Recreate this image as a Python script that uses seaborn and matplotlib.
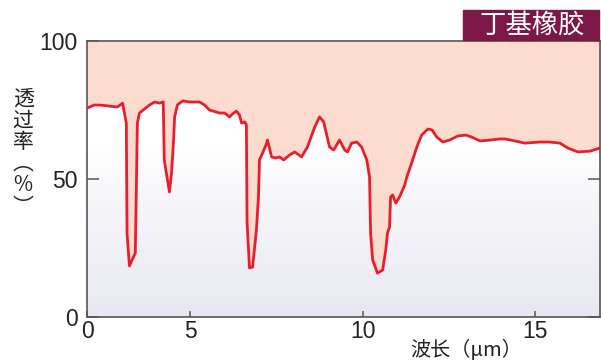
import numpy as np
import pandas as pd
import matplotlib
matplotlib.use("Agg")
import matplotlib.pyplot as plt
import seaborn as sns
from matplotlib.colors import LinearSegmentedColormap
from matplotlib.patches import Rectangle

# ---- data ----
wavelength = [2.00, 2.21, 2.36, 2.88, 3.03, 3.14, 3.16, 3.23, 3.40, 3.43, 3.46, 3.52,
              3.67, 3.81, 3.96, 4.10, 4.21, 4.24, 4.30, 4.39, 4.45, 4.51, 4.54, 4.62,
              4.77, 4.97, 5.26, 5.41, 5.55, 5.84, 5.99, 6.13, 6.22, 6.33, 6.42, 6.48,
              6.57, 6.62, 6.64, 6.71, 6.80, 6.86, 6.91, 6.97, 7.00, 7.09, 7.21, 7.23,
              7.29, 7.35, 7.47, 7.58, 7.70, 7.87, 8.02, 8.22, 8.39, 8.60, 8.74, 8.86,
              9.03, 9.15, 9.32, 9.47, 9.55, 9.67, 9.82, 9.96, 10.11, 10.19, 10.22, 10.28,
              10.42, 10.57, 10.66, 10.71, 10.77, 10.80, 10.86, 10.95, 11.06, 11.21, 11.27,
              11.41, 11.56, 11.70, 11.88, 12.00, 12.14, 12.31, 12.51, 12.75, 12.98, 13.15,
              13.39, 13.68, 13.96, 14.11, 14.40, 14.69, 15.12, 15.41, 15.71, 15.94, 16.23,
              16.58, 16.87]
transmittance = [75.7, 76.8, 76.8, 76.1, 77.5, 70.3, 30.4, 18.5, 23.2, 46.0, 70.3, 73.9,
                 75.4, 76.8, 77.9, 77.5, 77.9, 56.9, 52.2, 45.3, 52.2, 64.1, 72.5, 76.8,
                 78.3, 77.9, 77.9, 76.8, 75.0, 73.9, 73.9, 72.5, 73.6, 74.6, 73.2, 70.3,
                 70.7, 69.6, 34.1, 17.8, 18.1, 25.4, 31.5, 43.5, 56.9, 59.4, 63.0, 64.1,
                 61.2, 58.0, 57.6, 58.0, 56.9, 58.7, 59.8, 58.0, 61.6, 68.8, 72.5, 70.7,
                 61.6, 60.5, 64.1, 60.5, 59.8, 63.0, 63.4, 61.6, 56.9, 50.7, 30.4, 20.7,
                 15.9, 17.0, 24.3, 30.4, 32.6, 43.5, 44.2, 41.3, 43.5, 47.8, 50.7,
                 55.8, 61.6, 65.9, 68.1, 67.8, 65.2, 63.4, 64.1, 65.6, 65.9, 65.2,
                 63.8, 64.1, 64.5, 64.5, 63.8, 63.0, 63.4, 63.4, 63.0, 61.2, 59.8,
                 60.1, 61.2]
x_ticks = [2, 5, 10, 15]
x_tick_labels = ["0", "5", "10", "15"]
y_ticks = [0, 50, 100]
y_tick_labels = ["0", "50", "100"]
title = "丁基橡胶"
x_label = "波长（μm）"
y_label = "透\n过\n率\n︵\n%\n︶"

df = pd.DataFrame({"wavelength": wavelength, "transmittance": transmittance})

sns.set_theme(style="white")
plt.rcParams["font.family"] = ["Noto Sans CJK SC", "DejaVu Sans"]

W, H = 601, 363
fig = plt.figure(figsize=(W / 100, H / 100), dpi=100)
fig.patch.set_facecolor("white")
ax = fig.add_axes([87 / W, 46 / H, 513 / W, 276 / H])

xmin, xmax = 2.0, 16.87

# gradient background (visible below the curve)
cmap = LinearSegmentedColormap.from_list(
    "bg", [(0.0, "#e8e8f2"), (0.45, "#f7f7fa"), (0.62, "#ffffff"), (1.0, "#ffffff")])
grad = np.linspace(0, 1, 256).reshape(-1, 1)
ax.imshow(grad, extent=[xmin, xmax, 0, 100], origin="lower", cmap=cmap,
          aspect="auto", zorder=0, interpolation="bilinear")

# salmon fill above the curve
ax.fill_between(df["wavelength"], df["transmittance"], 100, color="#fcdccf",
                lw=0, zorder=1)
sns.lineplot(data=df, x="wavelength", y="transmittance", ax=ax, sort=False,
             estimator=None, color="#ea1d2c", lw=2.0, zorder=3,
             solid_joinstyle="round", solid_capstyle="round")

ax.set_xlim(xmin, xmax)
ax.set_ylim(0, 100)
ax.set_xlabel("")
ax.set_ylabel("")

ax.set_xticks(x_ticks)
ax.set_xticklabels(x_tick_labels, family=["Liberation Sans"], fontsize=16.5, color="#222222")
ax.set_yticks(y_ticks)
ax.set_yticklabels(y_tick_labels, family=["Liberation Sans"], fontsize=16.5, color="#222222")
ax.tick_params(axis="y", direction="in", length=8.5, width=1.1, color="#555555",
               left=True, right=True, pad=6.5)
ax.tick_params(axis="x", direction="in", length=4.5, width=1.1, color="#555555",
               bottom=True, top=False, pad=2)

for s in ax.spines.values():
    s.set_color("#555555")
    s.set_linewidth(1.2)
    s.set_visible(True)

# title box
fig.patches.append(Rectangle((463 / W, 1 - 40 / H), 136 / W, 30 / H,
                             transform=fig.transFigure, color="#7b1845", zorder=5))
fig.text(532 / W, 1 - 25 / H, title, ha="center", va="center", color="white",
         fontsize=19, fontweight="medium", zorder=6)

# x label
fig.text(466 / W, 1 - 350 / H, x_label, ha="center", va="center",
         fontsize=14.5, color="#222222")

# y label (vertical, stacked characters)
fig.text(23 / W, 1 - 153 / H, y_label, ha="center", va="center",
         fontsize=15, color="#222222", linespacing=0.98, multialignment="center")

fig.savefig("out.png", dpi=100, facecolor="white")
